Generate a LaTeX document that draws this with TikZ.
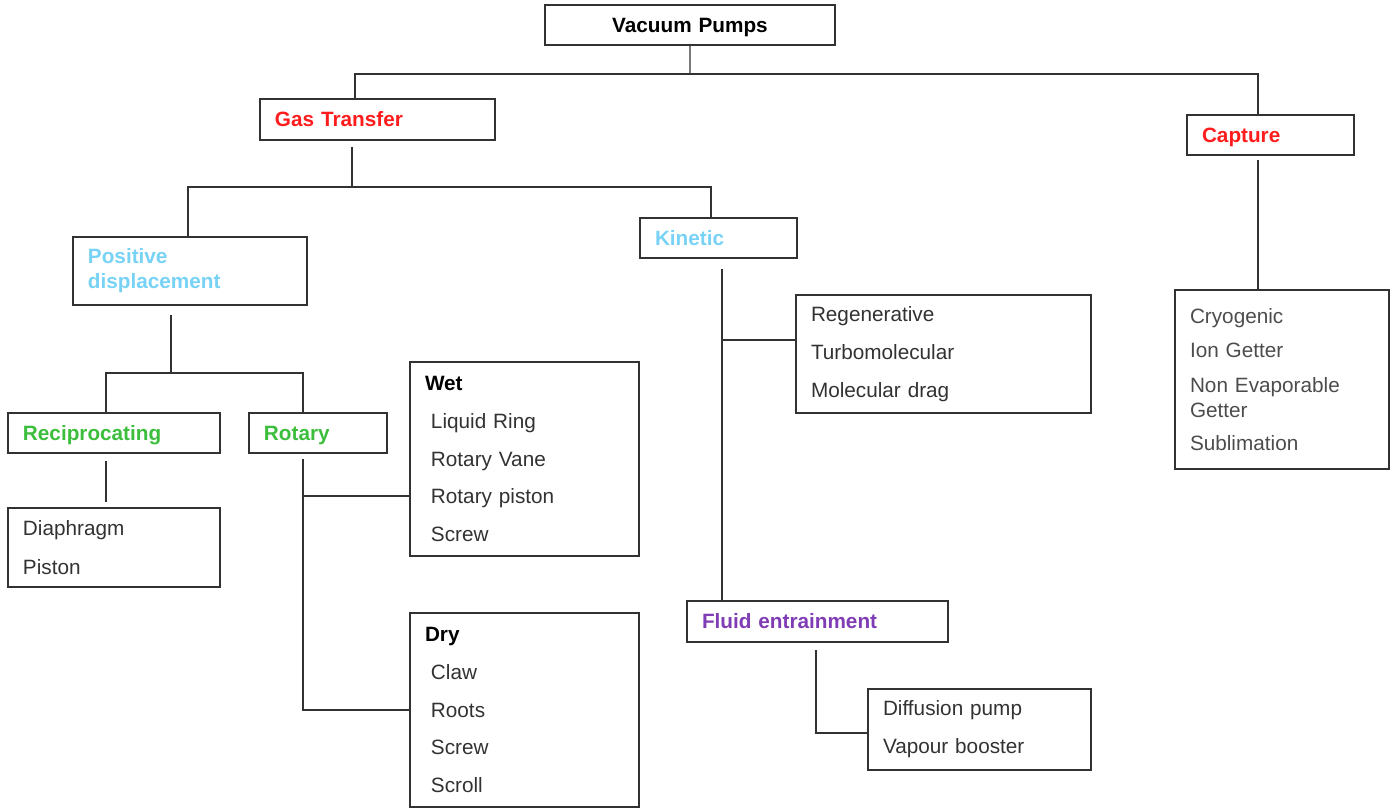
\documentclass[tikz,border=0pt]{standalone}
\usepackage{fontspec}
\setmainfont{Liberation Sans}[WordSpace=0.8]
\usetikzlibrary{calc}
\definecolor{gasred}{RGB}{255,28,28}
\definecolor{kinblue}{RGB}{120,210,245}
\definecolor{rotgreen}{RGB}{60,190,60}
\definecolor{fluidpurple}{RGB}{128,60,180}
\definecolor{inkgray}{RGB}{50,50,50}
\tikzstyle{box}=[draw=inkgray,line width=0.8pt,rectangle,anchor=north west,inner xsep=0.3cm,inner ysep=0pt,outer sep=0pt,align=left,text=inkgray,font=\fontsize{11.8}{14.2}\selectfont]
\tikzstyle{title}=[font=\fontsize{11.8}{14.2}\selectfont\bfseries]
\tikzstyle{oneline}=[text height=10.7pt,text depth=2.25pt]
\tikzstyle{conn}=[draw=inkgray,line width=0.8pt]

\begin{document}
\begin{tikzpicture}[x=0.02cm,y=-0.02cm]
    \useasboundingbox (0,0) rectangle (1394,809);

    % categories
    \node[box,title,oneline,text=black,align=center,minimum width=5.8cm,minimum height=0.8cm,text width=5.2cm] (vp) at (545,5) {Vacuum Pumps};
    \node[box,title,oneline,text=gasred,minimum width=4.7cm,minimum height=0.82cm,text width=4.1cm] (gt) at (260,99) {Gas Transfer};
    \node[box,title,oneline,text=gasred,minimum width=3.34cm,minimum height=0.8cm,text width=2.74cm] (cap) at (1187,115) {Capture};
    \node[box,title,text=kinblue,minimum width=4.68cm,minimum height=1.36cm,text width=4.08cm] (pd) at (73,237) {Positive\\displacement};
    \node[box,title,oneline,text=kinblue,minimum width=3.14cm,minimum height=0.8cm,text width=2.54cm] (kin) at (640,218) {Kinetic};
    \node[box,title,oneline,text=rotgreen,minimum width=4.24cm,minimum height=0.8cm,text width=3.64cm] (rec) at (8,413) {Reciprocating};
    \node[box,title,oneline,text=rotgreen,minimum width=2.76cm,minimum height=0.8cm,text width=2.16cm] (rot) at (249,413) {Rotary};
    \node[box,title,oneline,text=fluidpurple,minimum width=5.22cm,minimum height=0.82cm,text width=4.62cm] (fe) at (687,601) {Fluid entrainment};

    % pump lists
    \node[box,minimum width=4.24cm,minimum height=1.58cm,text width=3.64cm] (dia) at (8,508) {Diaphragm\\[7.9pt]Piston};
    \node[box,minimum width=4.58cm,minimum height=3.88cm,text width=3.98cm] (wet) at (410,362)
        {{\bfseries\color{black}Wet}\\[7.4pt]\hspace*{3.4pt}Liquid Ring\\[7.4pt]\hspace*{3.4pt}Rotary Vane\\[7.4pt]\hspace*{3.4pt}Rotary piston\\[7.4pt]\hspace*{3.4pt}Screw};
    \node[box,minimum width=4.58cm,minimum height=3.88cm,text width=3.98cm] (dry) at (410,613)
        {{\bfseries\color{black}Dry}\\[7.4pt]\hspace*{3.4pt}Claw\\[7.4pt]\hspace*{3.4pt}Roots\\[7.4pt]\hspace*{3.4pt}Screw\\[7.4pt]\hspace*{3.4pt}Scroll};
    \node[box,minimum width=5.9cm,minimum height=2.36cm,text width=5.3cm] (reg) at (796,295)
        {Regenerative\\[7.4pt]Turbomolecular\\[7.4pt]Molecular drag};
    \node[box,minimum width=4.46cm,minimum height=1.62cm,text width=3.86cm] (dif) at (868,689)
        {Diffusion pump\\[7.4pt]Vapour booster};
    \node[box,minimum width=4.28cm,minimum height=3.58cm,text width=3.68cm,text=black!70] (cry) at (1175,290)
        {Cryogenic\\[5.6pt]Ion Getter\\[5.6pt]Non Evaporable\\Getter\\[4.5pt]Sublimation};

    % tree lines
    \coordinate (top) at (690,74);
    \path[conn] (vp.south) -- (top);
    \path[conn] ($(gt.north west)+(95,0)$) |- (top) -| ($(cap.north west)+(71,0)$);
    \path[conn] ($(gt.south west)+(92,7)$) -- ++(0,40) coordinate (g0);
    \path[conn] ($(pd.north west)+(115,0)$) |- (g0) -| ($(kin.north west)+(71,0)$);
    \path[conn] ($(pd.south west)+(98,10)$) -- ++(0,58) coordinate (p0);
    \path[conn] ($(rec.north west)+(98,0)$) |- (p0) -| ($(rot.north west)+(54,0)$);
    \path[conn] ($(rec.south west)+(98,8)$) -- ($(dia.north west)+(98,-6)$);
    \path[conn] ($(rot.south west)+(54,6)$) coordinate (r0) |- (dry.west);
    \path[conn] ($(wet.north west)+(0,134)$) -| (r0);
    \path[conn] ($(kin.south west)+(82,11)$) coordinate (k0) -- ($(fe.north west)+(35,0)$);
    \path[conn] ($(reg.north west)+(0,45)$) -| (k0);
    \path[conn] ($(fe.south west)+(129,8)$) |- ($(dif.north west)+(0,44)$);
    \path[conn] ($(cap.south west)+(71,5)$) -- ($(cry.north west)+(83,0)$);

\end{tikzpicture}
\end{document}
